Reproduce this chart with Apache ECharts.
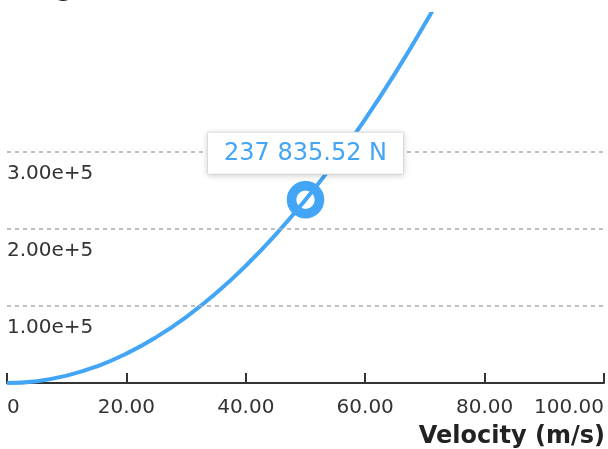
<!DOCTYPE html>
<html>
<head>
<meta charset="utf-8">
<script src="https://cdn.jsdelivr.net/npm/echarts@6/dist/echarts.min.js"></script>
<style>
  html, body { margin: 0; padding: 0; background: #fff; }
  #chart { width: 608px; height: 449px; }
</style>
</head>
<body>
<div id="chart"></div>
<script>
// Velocity (m/s) and drag force (N)
const velocities = [0, 5, 10, 15, 20, 25, 30, 35, 40, 45, 50, 55, 60, 65, 70, 75];
const forces = [0, 2400, 9500, 21400, 38100, 59500, 85600, 116500, 152200, 192600, 237835.52, 287800, 342500, 401900, 466200, 535100];
const highlightPoint = [50, 237835.52];
const xTicks = [0, 20, 40, 60, 80, 100];
const yTicks = [100000, 200000, 300000];
const titleText = 'Drag Force (N)';
const xName = 'Velocity (m/s)';

const BLUE = '#42A5F5';
const FONT = 'DejaVu Sans';

function fmtForce(v) {
  const parts = v.toFixed(2).split('.');
  const intPart = parts[0].replace(/\B(?=(\d{3})+(?!\d))/g, ' ');
  return intPart + '.' + parts[1] + ' N';
}

const chart = echarts.init(document.getElementById('chart'), null, { renderer: 'canvas' });
chart.setOption({
  animation: false,
  backgroundColor: '#fff',
  textStyle: { fontFamily: FONT },
  title: {
    text: titleText,
    left: 3,
    top: -27,
    textStyle: { fontFamily: FONT, fontSize: 24, fontWeight: 'bold', color: '#222' }
  },
  grid: { left: 7, right: 2, top: 14, bottom: 62, containLabel: false },
  xAxis: {
    type: 'value',
    min: xTicks[0],
    max: xTicks[xTicks.length - 1],
    interval: 20,
    name: xName,
    nameLocation: 'end',
    nameGap: 1,
    nameTextStyle: {
      fontFamily: FONT, fontSize: 24, fontWeight: 'bold', color: '#222',
      align: 'right', verticalAlign: 'top', padding: [42, 0, 0, 0]
    },
    axisLine: { show: true, onZero: false, lineStyle: { color: '#333', width: 2 } },
    axisTick: { show: true, inside: true, length: 10, lineStyle: { color: '#333', width: 2 } },
    axisLabel: {
      fontFamily: FONT, fontSize: 20, color: '#333', margin: 15,
      alignMinLabel: 'left', alignMaxLabel: 'right',
      formatter: v => (v === 0 ? '0' : v.toFixed(2))
    },
    splitLine: { show: false }
  },
  yAxis: {
    type: 'value',
    min: 0,
    max: 479000,
    interval: 100000,
    axisLine: { show: false },
    axisTick: { show: false },
    splitLine: { show: false },
    axisLabel: {
      inside: true,
      margin: 0,
      fontFamily: FONT, fontSize: 20, color: '#333',
      align: 'left', verticalAlign: 'top', padding: [12, 0, 0, 0],
      showMaxLabel: false, showMinLabel: false,
      formatter: v => (yTicks.indexOf(v) >= 0 ? v.toExponential(2) : '')
    }
  },
  series: [
    {
      type: 'scatter',
      z: 1,
      data: [highlightPoint],
      symbol: 'circle',
      symbolSize: 28,
      itemStyle: { color: '#fff', borderColor: BLUE, borderWidth: 9.5, opacity: 1 },
      silent: true
    },
    {
      type: 'line',
      z: 3,
      data: velocities.map((v, i) => [v, forces[i]]),
      smooth: true,
      showSymbol: false,
      symbol: 'none',
      lineStyle: { color: BLUE, width: 4 },
      silent: true,
      markLine: {
        silent: true,
        symbol: 'none',
        label: { show: false },
        lineStyle: { type: [4, 4], color: '#aaa', width: 1.5 },
        data: yTicks.map(v => ({ yAxis: v }))
      }
    },
    {
      type: 'scatter',
      z: 5,
      data: [highlightPoint],
      symbol: 'circle',
      symbolSize: 26,
      itemStyle: { color: 'rgba(0,0,0,0)', opacity: 1 },
      silent: true,
      label: {
        show: true,
        position: 'top',
        distance: 13,
        opacity: 1,
        formatter: p => fmtForce(p.value[1]),
        fontFamily: FONT,
        fontSize: 24,
        color: BLUE,
        backgroundColor: '#ffffff',
        borderColor: '#e8e8e8',
        borderWidth: 1,
        padding: [9, 16, 8, 16],
        shadowColor: 'rgba(0,0,0,0.15)',
        shadowBlur: 6,
        shadowOffsetY: 1
      }
    }
  ]
});
</script>
</body>
</html>
